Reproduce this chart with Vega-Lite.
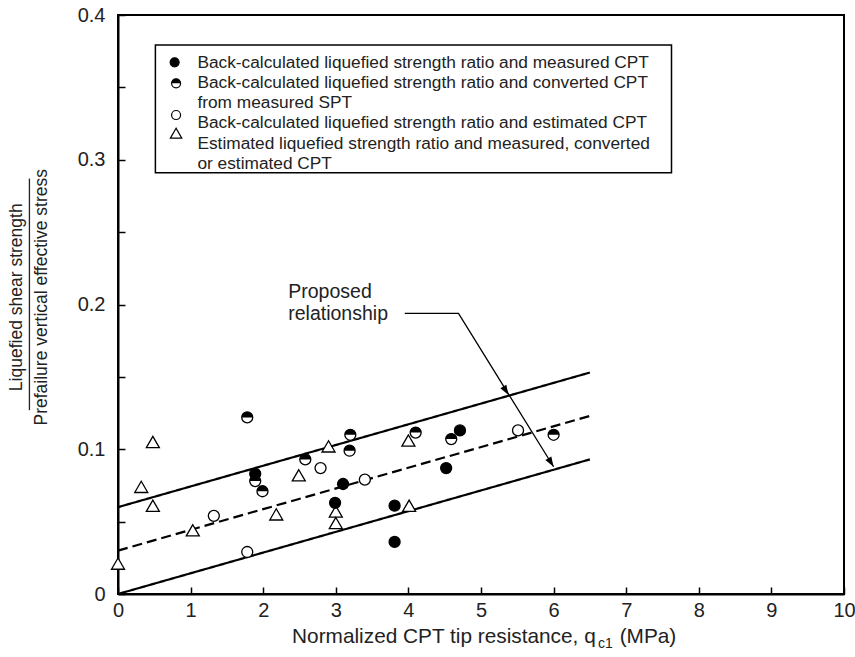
{
  "$schema": "https://vega.github.io/schema/vega-lite/v6.json",
  "width": 726,
  "height": 579,
  "autosize": {"type": "none"},
  "padding": {"left": 118, "top": 15, "right": 11, "bottom": 63},
  "background": "white",
  "config": {"view": {"stroke": "black", "strokeWidth": 2}, "font": "Liberation Sans"},
  "datasets": {
    "lines": [
      {"x": 0, "y": 0.06, "series": "upper bound", "kind": "bound"},
      {"x": 6.5, "y": 0.153, "series": "upper bound", "kind": "bound"},
      {"x": 0, "y": 0.03, "series": "trend", "kind": "trend"},
      {"x": 6.5, "y": 0.123, "series": "trend", "kind": "trend"},
      {"x": 0, "y": 0.0, "series": "lower bound", "kind": "bound"},
      {"x": 6.5, "y": 0.093, "series": "lower bound", "kind": "bound"}
    ],
    "points": [
      {"x": 0.0, "y": 0.021, "type": "estimated ratio"},
      {"x": 0.32, "y": 0.074, "type": "estimated ratio"},
      {"x": 0.48, "y": 0.105, "type": "estimated ratio"},
      {"x": 0.48, "y": 0.061, "type": "estimated ratio"},
      {"x": 1.03, "y": 0.044, "type": "estimated ratio"},
      {"x": 2.18, "y": 0.055, "type": "estimated ratio"},
      {"x": 2.49, "y": 0.082, "type": "estimated ratio"},
      {"x": 2.9, "y": 0.102, "type": "estimated ratio"},
      {"x": 3.0, "y": 0.057, "type": "estimated ratio"},
      {"x": 3.0, "y": 0.049, "type": "estimated ratio"},
      {"x": 4.0, "y": 0.106, "type": "estimated ratio"},
      {"x": 4.01, "y": 0.061, "type": "estimated ratio"},
      {"x": 1.32, "y": 0.054, "type": "estimated"},
      {"x": 1.78, "y": 0.029, "type": "estimated"},
      {"x": 2.79, "y": 0.087, "type": "estimated"},
      {"x": 3.4, "y": 0.079, "type": "estimated"},
      {"x": 5.51, "y": 0.113, "type": "estimated"},
      {"x": 1.89, "y": 0.083, "type": "measured"},
      {"x": 2.99, "y": 0.063, "type": "measured"},
      {"x": 3.1, "y": 0.076, "type": "measured"},
      {"x": 3.81, "y": 0.061, "type": "measured"},
      {"x": 3.81, "y": 0.036, "type": "measured"},
      {"x": 4.52, "y": 0.087, "type": "measured"},
      {"x": 4.71, "y": 0.113, "type": "measured"},
      {"x": 1.78, "y": 0.122, "type": "converted"},
      {"x": 1.89, "y": 0.078, "type": "converted"},
      {"x": 1.99, "y": 0.071, "type": "converted"},
      {"x": 2.58, "y": 0.093, "type": "converted"},
      {"x": 3.2, "y": 0.11, "type": "converted"},
      {"x": 3.19, "y": 0.099, "type": "converted"},
      {"x": 4.1, "y": 0.1115, "type": "converted"},
      {"x": 4.59, "y": 0.107, "type": "converted"},
      {"x": 6.0, "y": 0.11, "type": "converted"}
    ],
    "legendSymbols": [
      {"x": 0.78, "y": 0.3673, "type": "measured"},
      {"x": 0.8, "y": 0.3528, "type": "converted"},
      {"x": 0.8, "y": 0.3309, "type": "estimated"},
      {"x": 0.8, "y": 0.3183, "type": "estimated ratio"}
    ],
    "legendText": [
      {"x": 1.094, "y": 0.3668, "label": "Back-calculated liquefied strength ratio and measured CPT"},
      {"x": 1.094, "y": 0.353, "label": "Back-calculated liquefied strength ratio and converted CPT"},
      {"x": 1.094, "y": 0.3392, "label": "from measured SPT"},
      {"x": 1.094, "y": 0.3254, "label": "Back-calculated liquefied strength ratio and estimated CPT"},
      {"x": 1.094, "y": 0.3109, "label": "Estimated liquefied strength ratio and measured, converted"},
      {"x": 1.094, "y": 0.2971, "label": "or estimated CPT"}
    ],
    "legendBox": [{"x": 0.515, "x2": 7.624, "y": 0.3793, "y2": 0.2911}],
    "leader": [
      {"x": 3.95, "y": 0.1939, "o": 1},
      {"x": 4.69, "y": 0.1939, "o": 2},
      {"x": 6.0, "y": 0.0879, "o": 3}
    ],
    "arrowheads": [
      {"x": 5.38, "y": 0.1375},
      {"x": 6.0, "y": 0.0879}
    ],
    "annotation": [
      {"x": 2.345, "y": 0.2045, "label": "Proposed"},
      {"x": 2.345, "y": 0.1893, "label": "relationship"}
    ],
    "yTitle": [
      {"x": -1.39, "y": 0.205, "label": "Liquefied shear strength"},
      {"x": -1.05, "y": 0.205, "label": "Prefailure vertical effective stress"}
    ],
    "yTitleBar": [{"x": -1.22, "y": 0.127, "y2": 0.287}],
    "xTitleMain": [{"x": 6.58, "y": -0.0297, "label": "Normalized CPT tip resistance, q"}],
    "xTitleSub": [{"x": 6.61, "y": -0.0345, "label": "c1"}],
    "xTitleUnit": [{"x": 6.91, "y": -0.0297, "label": "(MPa)"}]
  },
  "encoding": {
    "x": {
      "field": "x", "type": "quantitative",
      "scale": {"domain": [0, 10], "nice": false, "zero": false},
      "axis": {
        "title": null, "values": [0,1,2,3,4,5,6,7,8,9,10], "grid": false,
        "tickSize": -7, "labelPadding": 13, "labelFontSize": 20, "labelColor": "#222",
        "domainColor": "black", "domainWidth": 2, "tickColor": "black", "tickWidth": 1.5,
        "labelFlush": false, "labelOverlap": false
      }
    },
    "y": {
      "field": "y", "type": "quantitative",
      "scale": {"domain": [0, 0.4], "nice": false, "zero": false},
      "axis": {
        "title": null, "values": [0,0.05,0.1,0.15,0.2,0.25,0.3,0.35,0.4], "grid": false,
        "tickSize": -7, "labelPadding": 20, "labelFontSize": 20, "labelColor": "#222",
        "domainColor": "black", "domainWidth": 2, "tickColor": "black", "tickWidth": 1.5,
        "labelFlush": false, "labelOverlap": false,
        "labelExpr": "datum.value == 0 ? '0' : (abs(round(datum.value*100) % 10) == 0 ? format(datum.value, '.1f') : '')"
      }
    }
  },
  "layer": [
    {
      "data": {"name": "lines"},
      "mark": {"type": "line", "color": "black", "strokeWidth": 2.2},
      "encoding": {
        "detail": {"field": "series"},
        "strokeDash": {"field": "kind", "type": "nominal", "scale": {"domain": ["bound", "trend"], "range": [[1, 0], [10, 5]]}, "legend": null}
      }
    },
    {
      "data": {"name": "leader"},
      "mark": {"type": "line", "color": "black", "strokeWidth": 1.3},
      "encoding": {"order": {"field": "o", "type": "quantitative"}}
    },
    {
      "data": {"name": "arrowheads"},
      "mark": {"type": "point", "shape": "M0,0L-0.35,-1L0.35,-1Z", "size": 400, "filled": true, "color": "black", "opacity": 1, "angle": -31.8},
      "encoding": {}
    },
    {
      "data": {"name": "points"},
      "transform": [{"filter": "datum.type == 'estimated ratio'"}],
      "mark": {"type": "point", "shape": "triangle-up", "size": 169, "filled": true, "fill": "white", "stroke": "black", "strokeWidth": 1.3, "opacity": 1},
      "encoding": {}
    },
    {
      "data": {"name": "points"},
      "transform": [{"filter": "datum.type != 'estimated ratio'"}],
      "mark": {"type": "point", "shape": "circle", "size": 121, "filled": true, "stroke": "black", "strokeWidth": 1.3, "opacity": 1},
      "encoding": {
        "fill": {"field": "type", "type": "nominal", "scale": {"domain": ["measured", "converted", "estimated"], "range": ["black", "white", "white"]}, "legend": null}
      }
    },
    {
      "data": {"name": "points"},
      "transform": [{"filter": "datum.type == 'converted'"}],
      "mark": {"type": "point", "shape": "M-1,0A1,1 0 0,1 1,0Z", "size": 121, "filled": true, "color": "black", "opacity": 1},
      "encoding": {}
    },
    {
      "data": {"name": "legendBox"},
      "mark": {"type": "rect", "fill": null, "fillOpacity": 0, "stroke": "black", "strokeWidth": 1.5},
      "encoding": {"x2": {"field": "x2"}, "y2": {"field": "y2"}}
    },
    {
      "data": {"name": "legendSymbols"},
      "transform": [{"filter": "datum.type == 'estimated ratio'"}],
      "mark": {"type": "point", "shape": "triangle-up", "size": 130, "filled": true, "fill": "white", "stroke": "black", "strokeWidth": 1.2, "opacity": 1},
      "encoding": {}
    },
    {
      "data": {"name": "legendSymbols"},
      "transform": [{"filter": "datum.type != 'estimated ratio'"}],
      "mark": {"type": "point", "shape": "circle", "size": 81, "filled": true, "stroke": "black", "strokeWidth": 1.2, "opacity": 1},
      "encoding": {
        "fill": {"field": "type", "type": "nominal", "scale": {"domain": ["measured", "converted", "estimated"], "range": ["black", "white", "white"]}, "legend": null}
      }
    },
    {
      "data": {"name": "legendSymbols"},
      "transform": [{"filter": "datum.type == 'converted'"}],
      "mark": {"type": "point", "shape": "M-1,0A1,1 0 0,1 1,0Z", "size": 81, "filled": true, "color": "black", "opacity": 1},
      "encoding": {}
    },
    {
      "data": {"name": "legendText"},
      "mark": {"type": "text", "align": "left", "baseline": "middle", "fontSize": 17.3, "color": "#222"},
      "encoding": {"text": {"field": "label"}}
    },
    {
      "data": {"name": "annotation"},
      "mark": {"type": "text", "align": "left", "baseline": "alphabetic", "fontSize": 19.5, "color": "#222"},
      "encoding": {"text": {"field": "label"}}
    },
    {
      "data": {"name": "yTitle"},
      "mark": {"type": "text", "align": "center", "baseline": "middle", "angle": 270, "fontSize": 17.5, "color": "#222"},
      "encoding": {"text": {"field": "label"}}
    },
    {
      "data": {"name": "yTitleBar"},
      "mark": {"type": "rule", "color": "#222", "strokeWidth": 1.3},
      "encoding": {"y2": {"field": "y2"}}
    },
    {
      "data": {"name": "xTitleMain"},
      "mark": {"type": "text", "align": "right", "baseline": "middle", "fontSize": 20.8, "color": "#222"},
      "encoding": {"text": {"field": "label"}}
    },
    {
      "data": {"name": "xTitleSub"},
      "mark": {"type": "text", "align": "left", "baseline": "middle", "fontSize": 14, "color": "#222"},
      "encoding": {"text": {"field": "label"}}
    },
    {
      "data": {"name": "xTitleUnit"},
      "mark": {"type": "text", "align": "left", "baseline": "middle", "fontSize": 20.8, "color": "#222"},
      "encoding": {"text": {"field": "label"}}
    }
  ]
}
